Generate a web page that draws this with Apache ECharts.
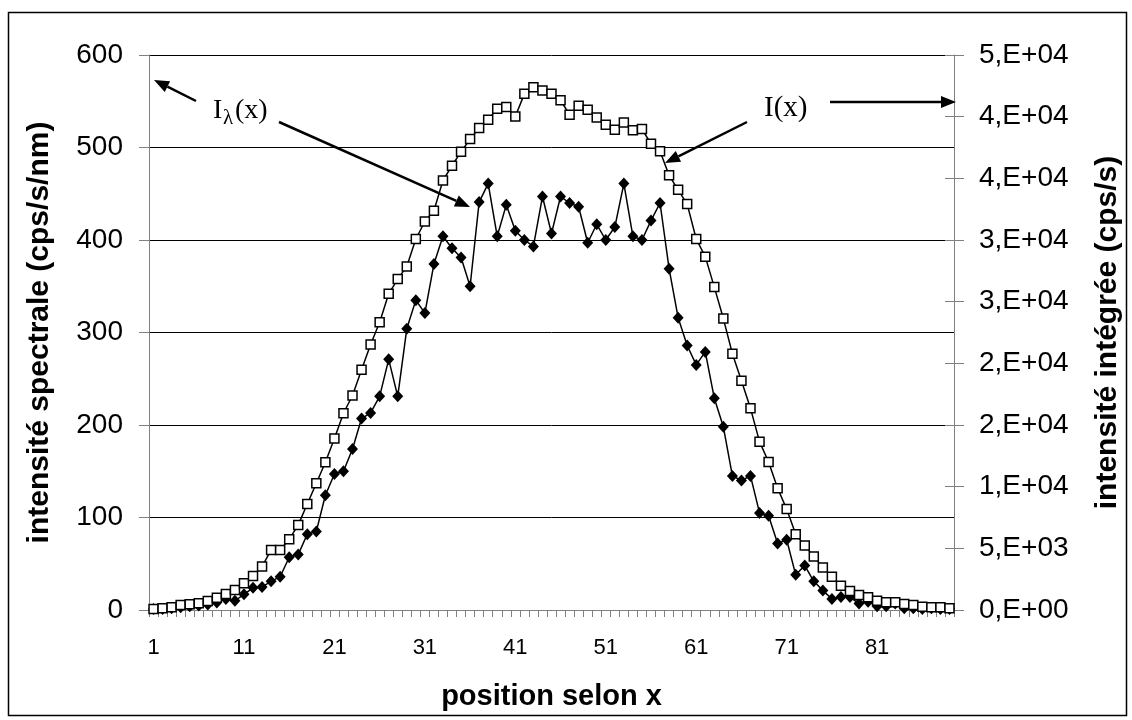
<!DOCTYPE html>
<html>
<head>
<meta charset="utf-8">
<script src="https://cdn.jsdelivr.net/npm/echarts@6/dist/echarts.min.js"></script>
<style>
html,body{margin:0;padding:0;background:#fff;}
#chart{width:1132px;height:720px;}
</style>
</head>
<body>
<div id="chart"></div>
<script>
// x positions (categories)
const positions = ['1','2','3','4','5','6','7','8','9','10','11','12','13','14','15','16','17','18','19','20',
'21','22','23','24','25','26','27','28','29','30','31','32','33','34','35','36','37','38','39','40',
'41','42','43','44','45','46','47','48','49','50','51','52','53','54','55','56','57','58','59','60',
'61','62','63','64','65','66','67','68','69','70','71','72','73','74','75','76','77','78','79','80',
'81','82','83','84','85','86','87','88','89'];

// spectral intensity I_lambda(x) (cps/s/nm), left axis
const spectral = [1,1,2,3,4,5,6,8,12,10,
17,24,25,31,36,57,60,82,85,124,
147,150,174,207,213,231,271,231,304,335,
321,374,404,391,381,350,441,461,404,438,
410,400,393,447,407,447,440,436,397,417,
400,414,461,404,400,421,440,369,316,286,
265,279,229,198,145,140,145,105,102,72,
76,38,48,31,21,12,14,14,7,9,
4,4,7,2,2,1,2,1,1];

// integrated intensity I(x) (cps/s), right axis
const integrated = [75,135,220,405,460,540,730,1000,1300,1620,
2160,2760,3520,4870,4870,5730,6900,8600,10280,11980,
13900,15950,17390,19470,21530,23330,25640,26830,27860,30080,
31500,32370,34830,36020,37160,38180,39080,39750,40650,40780,
40020,41850,42380,42130,41850,41330,40160,40880,40560,39940,
39350,38930,39530,38890,39000,37800,37190,35240,34070,32910,
30080,28650,26180,23630,20780,18580,16350,13650,12000,9870,
8180,6150,5220,4330,3450,2700,1970,1540,1220,1030,
750,620,620,490,410,270,220,220,140];

const FONT = 'Liberation Sans, Arial, sans-serif';
const SERIF = 'Liberation Serif, Times New Roman, serif';

function sciFmt(v){
  if (v === 0) return '0,E+00';
  let e = Math.floor(Math.log10(v) + 1e-9);
  let m = Math.round(v / Math.pow(10, e));
  if (m >= 10) { m = 1; e += 1; }
  const sign = e < 0 ? '-' : '+';
  const ae = Math.abs(e);
  return m + ',E' + sign + (ae < 10 ? '0' + ae : ae);
}

function arrow(x1, y1, x2, y2){
  const dx = x2 - x1, dy = y2 - y1;
  const L = Math.sqrt(dx*dx + dy*dy);
  const ux = dx / L, uy = dy / L;
  const hl = 15, hw = 6;
  const bx = x2 - ux*hl, by = y2 - uy*hl;
  return [
    {type:'line', shape:{x1:x1, y1:y1, x2:bx, y2:by}, style:{stroke:'#000', lineWidth:2.5}, z:100},
    {type:'polygon', shape:{points:[[x2,y2],[bx - uy*hw, by + ux*hw],[bx + uy*hw, by - ux*hw]]}, style:{fill:'#000'}, z:100}
  ];
}

const chart = echarts.init(document.getElementById('chart'), null, {renderer:'canvas'});

const graphics = [
  {type:'rect', shape:{x:8.5, y:12.5, width:1118, height:703}, style:{fill:'none', stroke:'#000', lineWidth:1.5}, z:0},
  {type:'text', x:213, y:111, style:{text:'I', font:'28px ' + SERIF, fill:'#000', verticalAlign:'middle'}, z:100},
  {type:'text', x:223, y:118, style:{text:'λ', font:'21px ' + SERIF, fill:'#000', verticalAlign:'middle'}, z:100},
  {type:'text', x:235, y:111, style:{text:'(x)', font:'28px ' + SERIF, fill:'#000', verticalAlign:'middle'}, z:100},
  {type:'text', x:764, y:108, style:{text:'I(x)', font:'29px ' + SERIF, fill:'#000', verticalAlign:'middle'}, z:100}
]
.concat(arrow(196, 101, 154, 80))
.concat(arrow(279, 122, 470, 207))
.concat(arrow(747, 122, 665, 163))
.concat(arrow(830, 102, 956, 102));

const option = {
  backgroundColor:'#fff',
  animation:false,
  textStyle:{fontFamily:FONT},
  grid:{left:149, right:178, top:55, bottom:110, containLabel:false},
  xAxis:{
    type:'category',
    data:positions,
    boundaryGap:true,
    name:'position selon x',
    nameLocation:'middle',
    nameGap:72,
    nameTextStyle:{fontSize:29, fontWeight:'bold', color:'#000', fontFamily:FONT},
    axisLine:{show:true, lineStyle:{color:'#808080', width:1}},
    axisTick:{show:true, interval:0, alignWithLabel:false, length:7, lineStyle:{color:'#808080'}},
    axisLabel:{interval:9, fontSize:22, color:'#000', margin:27, fontFamily:FONT},
    splitLine:{show:false}
  },
  yAxis:[
    {
      type:'value', position:'left', min:0, max:600, interval:100,
      name:'intensité spectrale (cps/s/nm)',
      nameLocation:'middle', nameRotate:90, nameGap:94,
      nameTextStyle:{fontSize:30, fontWeight:'bold', color:'#000', fontFamily:FONT},
      axisLine:{show:true, lineStyle:{color:'#808080', width:1}},
      axisTick:{show:true, length:10, lineStyle:{color:'#808080'}},
      axisLabel:{fontSize:28, color:'#000', margin:26, fontFamily:FONT},
      splitLine:{show:true, lineStyle:{color:'#000', width:1}}
    },
    {
      type:'value', position:'right', min:0, max:45000, interval:5000,
      name:'intensité intégrée (cps/s)',
      nameLocation:'middle', nameRotate:90, nameGap:139,
      nameTextStyle:{fontSize:30, fontWeight:'bold', color:'#000', fontFamily:FONT},
      axisLine:{show:true, lineStyle:{color:'#808080', width:1}},
      axisTick:{show:true, length:10, lineStyle:{color:'#808080'}},
      axisLabel:{fontSize:28, color:'#000', margin:25, fontFamily:FONT, formatter:sciFmt},
      splitLine:{show:false}
    },
    {
      type:'value', position:'right', min:0, max:45000, interval:5000,
      axisLine:{show:false},
      axisTick:{show:true, inside:true, length:9, lineStyle:{color:'#808080'}},
      axisLabel:{show:false},
      splitLine:{show:false}
    }
  ],
  series:[
    {
      name:'Iλ(x)', type:'line', yAxisIndex:0, data:spectral,
      symbol:'diamond', symbolSize:[11,12], showAllSymbol:true,
      lineStyle:{color:'#000', width:1.5},
      itemStyle:{color:'#000', borderColor:'#000', borderWidth:0},
      z:3
    },
    {
      name:'I(x)', type:'line', yAxisIndex:1, data:integrated,
      symbol:'rect', symbolSize:9, showAllSymbol:true,
      lineStyle:{color:'#000', width:1.5},
      itemStyle:{color:'#fff', borderColor:'#000', borderWidth:1.5},
      z:4
    }
  ],
  graphic:graphics
};
chart.setOption(option);
</script>
</body>
</html>
